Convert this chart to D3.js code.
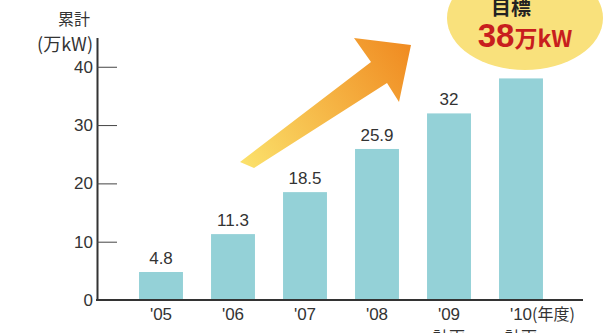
<!DOCTYPE html>
<html>
<head>
<meta charset="utf-8">
<script src="https://cdn.jsdelivr.net/npm/d3@7"></script>
<style>
  body { margin: 0; background: #fff; }
  svg { display: block; font-family: "Noto Sans CJK JP", "Liberation Sans", sans-serif; }
</style>
</head>
<body>
<div id="chart"></div>
<script>
// data
const years = ["'05", "'06", "'07", "'08", "'09", "'10"];
const values = [4.8, 11.3, 18.5, 25.9, 32, 38];
const valueLabels = ["4.8", "11.3", "18.5", "25.9", "32", ""];
const subLabels = ["", "", "", "", "計画", "計画"];
const yTicks = [0, 10, 20, 30, 40];

const width = 615, height = 333;
const latin = "'Liberation Sans', Arial, sans-serif";

const svg = d3.select("#chart").append("svg")
  .attr("width", width)
  .attr("height", height);

const defs = svg.append("defs");
const grad = defs.append("linearGradient")
  .attr("id", "arrowGrad")
  .attr("gradientUnits", "userSpaceOnUse")
  .attr("x1", 245).attr("y1", 165)
  .attr("x2", 410).attr("y2", 50);
grad.append("stop").attr("offset", "0%").attr("stop-color", "#fbe06a");
grad.append("stop").attr("offset", "100%").attr("stop-color", "#f08c22");

// scales
const x = d3.scaleBand()
  .domain(years)
  .range([125, 557])
  .paddingInner(0.39)
  .paddingOuter(0.195);

const y = d3.scaleLinear()
  .domain([0, 45])
  .range([300, 37.6]);

// bars
svg.selectAll("rect.bar")
  .data(values)
  .enter()
  .append("rect")
    .attr("class", "bar")
    .attr("x", (d, i) => x(years[i]))
    .attr("y", d => y(d))
    .attr("width", x.bandwidth())
    .attr("height", d => y(0) - y(d))
    .style("fill", "#94d1d7");

// value labels
svg.selectAll("text.val")
  .data(values)
  .enter()
  .append("text")
    .attr("class", "val")
    .attr("x", (d, i) => x(years[i]) + x.bandwidth() / 2)
    .attr("y", d => y(d) - 8)
    .attr("text-anchor", "middle")
    .style("font-size", "17px")
    .style("font-family", latin)
    .style("fill", "#333")
    .text((d, i) => valueLabels[i]);

// y axis (ticks pointing right)
const yAxis = svg.append("g")
  .attr("transform", "translate(97,0)")
  .call(d3.axisLeft(y).tickValues(yTicks).tickSize(-20).tickPadding(4).tickSizeOuter(0));
yAxis.select(".domain").attr("stroke", "#333").attr("stroke-width", 2);
yAxis.selectAll(".tick line").attr("stroke", "#444").attr("stroke-width", 1);
yAxis.selectAll(".tick text")
  .style("font-size", "17px")
  .style("fill", "#333")
  .style("font-family", latin);

// baseline
svg.append("line")
  .attr("x1", 96).attr("x2", 583)
  .attr("y1", y(0)).attr("y2", y(0))
  .attr("stroke", "#333")
  .attr("stroke-width", 2);

// x labels
svg.selectAll("text.xl")
  .data(years)
  .enter()
  .append("text")
    .attr("class", "xl")
    .attr("x", d => x(d) + x.bandwidth() / 2)
    .attr("y", 320)
    .attr("text-anchor", "middle")
    .style("font-size", "17px")
    .style("fill", "#333")
    .style("font-family", latin)
    .text(d => d);

// second line under '09 / '10, cut by the bottom edge as in the original
svg.selectAll("text.sub")
  .data(years)
  .enter()
  .append("text")
    .attr("class", "sub")
    .attr("x", d => x(d) + x.bandwidth() / 2)
    .attr("y", 343)
    .attr("text-anchor", "middle")
    .style("font-size", "16px")
    .style("fill", "#333")
    .text((d, i) => subLabels[i]);

svg.append("text")
  .attr("x", x("'10") + x.bandwidth() / 2 + 11)
  .attr("y", 320)
  .style("font-size", "16px")
  .style("fill", "#333")
  .text("(年度)");

// axis title
svg.append("text")
  .attr("x", 90)
  .attr("y", 25)
  .attr("text-anchor", "end")
  .style("font-size", "16px")
  .style("fill", "#333")
  .text("累計");
svg.append("text")
  .attr("x", 93)
  .attr("y", 51)
  .attr("text-anchor", "end")
  .style("font-size", "18px")
  .style("fill", "#333")
  .text("(万kW)");

// arrow
const arrowPts = [[240, 162], [371, 62], [354, 38], [411, 45], [399, 102], [387, 83], [254, 168]];
svg.append("path")
  .attr("d", d3.line()(arrowPts) + "Z")
  .style("fill", "url(#arrowGrad)");

// target bubble
svg.append("ellipse")
  .attr("cx", 525).attr("cy", 18)
  .attr("rx", 78).attr("ry", 52)
  .style("fill", "#f9e17c");
svg.append("text")
  .attr("x", 511).attr("y", 15)
  .attr("text-anchor", "middle")
  .style("font-size", "20px")
  .style("font-weight", "bold")
  .style("fill", "#222")
  .text("目標");
const tgt = svg.append("text")
  .attr("x", 525).attr("y", 47)
  .attr("text-anchor", "middle")
  .style("fill", "#c81e1e")
  .style("font-weight", "bold");
tgt.append("tspan").style("font-size", "33px").style("font-family", latin).text("38");
tgt.append("tspan").style("font-size", "23px").text("万kW");
</script>
</body>
</html>
